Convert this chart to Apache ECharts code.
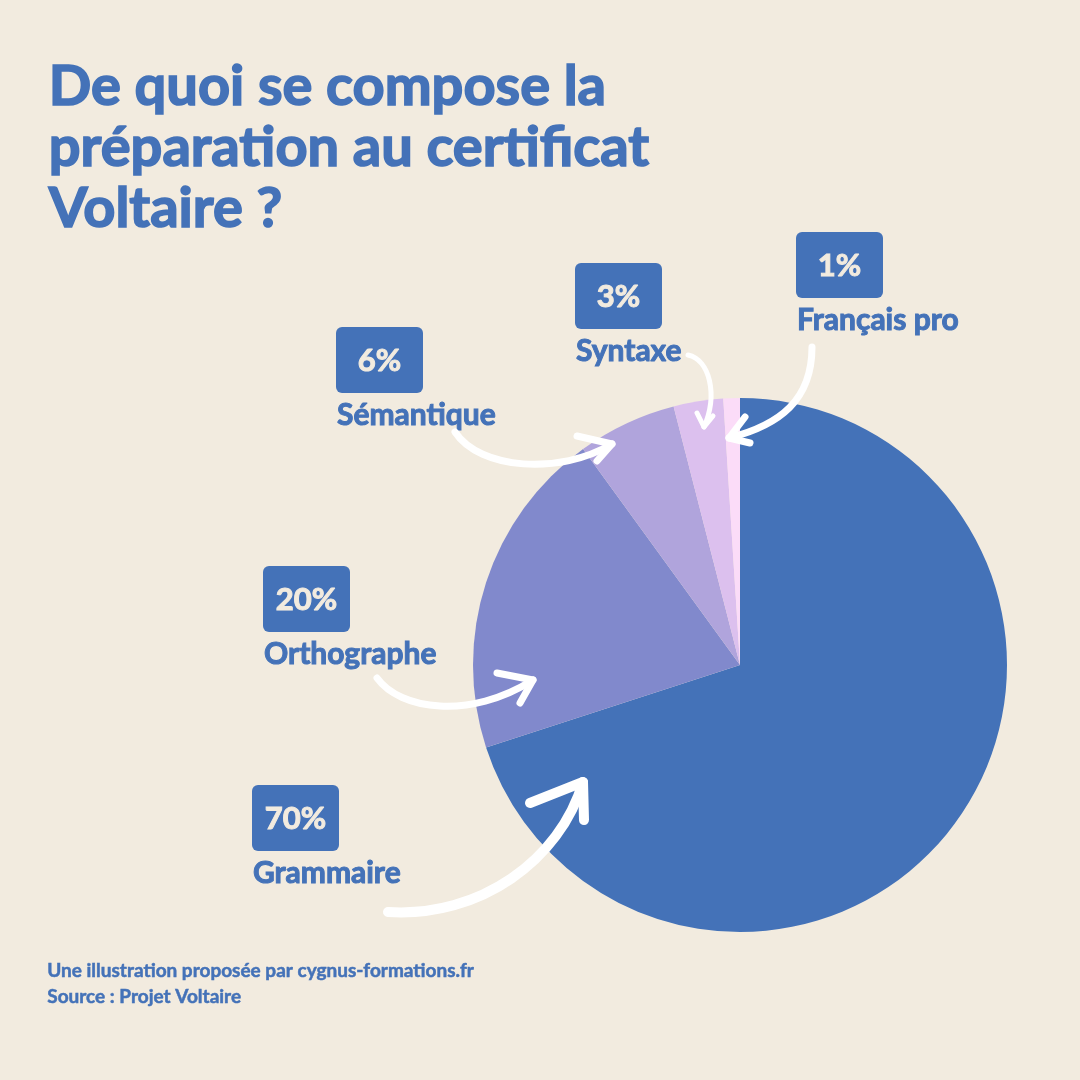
<!DOCTYPE html>
<html>
<head>
<meta charset="utf-8">
<script src="https://cdn.jsdelivr.net/npm/echarts@6/dist/echarts.min.js"></script>
<style>
  html, body { margin: 0; padding: 0; background: #f2ebdf; }
  #chart { width: 1080px; height: 1080px; }
</style>
</head>
<body>
<div id="chart"></div>
<script>
// data
const categories = ["Grammaire", "Orthographe", "Sémantique", "Syntaxe", "Français pro"];
const shares = [70, 20, 6, 3, 1];
const sliceColors = ["#4472b8", "#8189cc", "#b0a4dc", "#dcc0ee", "#fbdcf8"];

const titleLines = ["De quoi se compose la", "préparation au certificat", "Voltaire ?"];
const footerLines = ["Une illustration proposée par cygnus-formations.fr", "Source : Projet Voltaire"];

// where each annotation box sits (top-left), same order as categories
const boxPos = [[252, 785], [263, 566], [336, 327], [575, 263], [796, 232]];

// hand-drawn arrows: [x1,y1,cpx1,cpy1,cpx2,cpy2,x2,y2], head points, width
const arrows = [
  { c: [388, 912, 480, 918, 560, 860, 583, 782], head: [[530, 803], [583, 782], [584, 820]], w: 10 },
  { c: [377, 678, 400, 710, 470, 720, 533, 680], head: [[497, 673], [533, 680], [520, 703]], w: 7 },
  { c: [455, 432, 480, 470, 560, 475, 612, 444], head: [[577, 436], [612, 444], [597, 461]], w: 7 },
  { c: [688, 355, 710, 360, 718, 395, 704, 427], head: [[697, 413], [704, 427], [713, 416]], w: 5 },
  { c: [812, 347, 812, 400, 780, 425, 729, 438], head: [[745, 417], [729, 438], [750, 443]], w: 7 }
];

const FONT = "Lato";
const BLUE = "#4472b8";
const CREAM = "#f2ebdf";

const chart = echarts.init(document.getElementById("chart"));

const graphics = [];

// Lato bold is lighter than the original face, a thin stroke thickens it
titleLines.forEach((t, i) => {
  graphics.push({
    type: "text", left: 48, top: 58 + i * 61,
    style: { text: t, fill: BLUE, stroke: BLUE, lineWidth: 1.6, font: "bold 56px " + FONT }
  });
});

footerLines.forEach((t, i) => {
  graphics.push({
    type: "text", left: 47, top: 961 + i * 26,
    style: { text: t, fill: BLUE, stroke: BLUE, lineWidth: 0.5, font: "bold 19px " + FONT }
  });
});

categories.forEach((name, i) => {
  const [x, y] = boxPos[i];
  graphics.push({
    type: "rect", shape: { x: x, y: y, width: 87, height: 66, r: 6 },
    style: { fill: BLUE }
  });
  graphics.push({
    type: "text", x: x + 43.5, y: y + 34,
    style: { text: shares[i] + "%", fill: CREAM, stroke: CREAM, lineWidth: 1, font: "bold 31px " + FONT, align: "center", verticalAlign: "middle" }
  });
  graphics.push({
    type: "text", x: x + 1, y: y + 88,
    style: { text: name, fill: BLUE, stroke: BLUE, lineWidth: 1, font: "bold 30px " + FONT, align: "left", verticalAlign: "middle" }
  });
});

arrows.forEach(a => {
  const c = a.c;
  graphics.push({
    type: "bezierCurve", z: 10,
    shape: { x1: c[0], y1: c[1], cpx1: c[2], cpy1: c[3], cpx2: c[4], cpy2: c[5], x2: c[6], y2: c[7] },
    style: { stroke: "#ffffff", lineWidth: a.w, fill: null, lineCap: "round" }
  });
  graphics.push({
    type: "polyline", z: 10,
    shape: { points: a.head },
    style: { stroke: "#ffffff", lineWidth: a.w, fill: null, lineCap: "round", lineJoin: "round" }
  });
});

chart.setOption({
  backgroundColor: CREAM,
  animation: false,
  color: sliceColors,
  graphic: graphics,
  series: [
    {
      type: "pie",
      center: [740, 665],
      radius: [0, 267],
      startAngle: 90,
      clockwise: true,
      label: { show: false },
      labelLine: { show: false },
      itemStyle: { borderWidth: 0 },
      emphasis: { disabled: true },
      data: categories.map((name, i) => ({ name: name, value: shares[i] }))
    }
  ]
});
</script>
</body>
</html>
